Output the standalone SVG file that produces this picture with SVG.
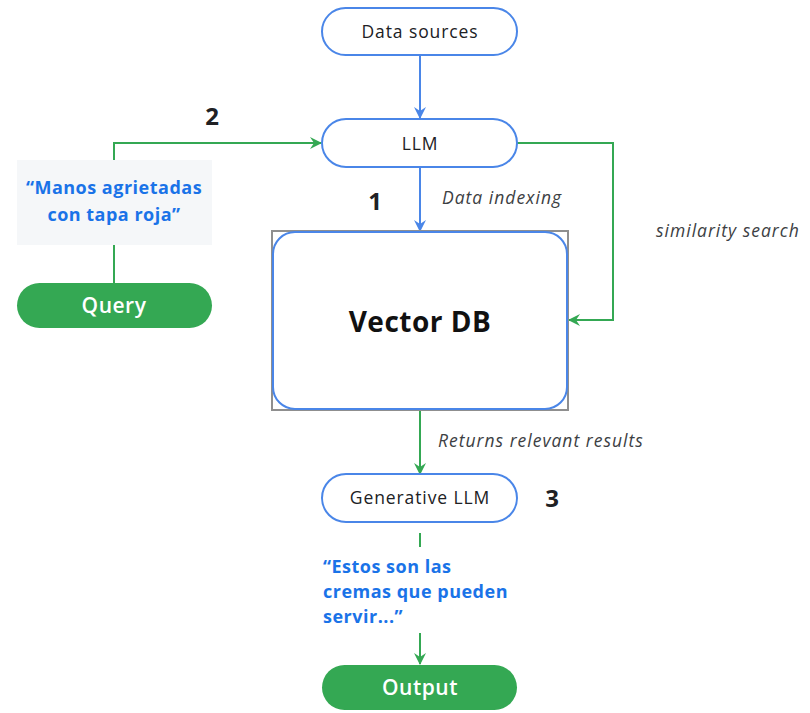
<svg xmlns="http://www.w3.org/2000/svg" width="810" height="713" viewBox="0 0 810 713">
  <defs>
    <style>
      .pill { fill: #ffffff; stroke: #4a86e8; stroke-width: 2; }
      .pill-green { fill: #34a853; stroke: none; }
      .lbl { font-family: "Open Sans", "Liberation Sans", sans-serif; font-size: 17.5px; letter-spacing: 0.9px; fill: #202124; text-anchor: middle; }
      .lbl-white { font-family: "Open Sans", "Liberation Sans", sans-serif; font-size: 21px; font-weight: 600; letter-spacing: 0.5px; fill: #ffffff; text-anchor: middle; }
      .step { font-family: "Open Sans", "Liberation Sans", sans-serif; font-size: 24px; font-weight: 700; fill: #202124; text-anchor: middle; }
      .note { font-family: "Open Sans", "Liberation Sans", sans-serif; font-size: 17.5px; font-style: italic; letter-spacing: 1px; fill: #3c4043; }
      .quote { font-family: "Open Sans", "Liberation Sans", sans-serif; font-size: 18px; font-weight: 700; letter-spacing: 0.5px; fill: #1a73e8; }
      .blue-line { fill: none; stroke: #4a86e8; stroke-width: 2; }
      .green-line { fill: none; stroke: #34a853; stroke-width: 2; }
    </style>
    <marker id="arrow-blue" viewBox="0 0 12 12" refX="11" refY="6" markerWidth="12" markerHeight="12" markerUnits="userSpaceOnUse" orient="auto">
      <path d="M0,0 L12,6 L0,12 L4,6 Z" fill="#4a86e8"/>
    </marker>
    <marker id="arrow-green" viewBox="0 0 12 12" refX="11" refY="6" markerWidth="12" markerHeight="12" markerUnits="userSpaceOnUse" orient="auto">
      <path d="M0,0 L12,6 L0,12 L4,6 Z" fill="#34a853"/>
    </marker>
  </defs>

  <rect width="810" height="713" fill="#ffffff"/>

  <!-- connectors -->
  <g id="connectors">
    <path class="blue-line" d="M420,55 V118" marker-end="url(#arrow-blue)"/>
    <path class="blue-line" d="M420,167 V231" marker-end="url(#arrow-blue)"/>
    <path class="green-line" d="M114,160 V143 H321" marker-end="url(#arrow-green)"/>
    <path class="green-line" d="M114,245 V283"/>
    <path class="green-line" d="M517,143 H613 V320 H569" marker-end="url(#arrow-green)"/>
    <path class="green-line" d="M420,410 V474" marker-end="url(#arrow-green)"/>
    <path class="green-line" d="M420,533 V547"/>
    <path class="green-line" d="M420,633 V664" marker-end="url(#arrow-green)"/>
  </g>

  <!-- connector notes -->
  <text class="note" x="442" y="204">Data indexing</text>
  <text class="note" x="656" y="237">similarity search</text>
  <text class="note" x="438" y="447">Returns relevant results</text>

  <!-- step numbers -->
  <text class="step" x="212" y="125">2</text>
  <text class="step" x="375" y="210">1</text>
  <text class="step" x="552" y="507">3</text>

  <g id="data-sources">
    <rect class="pill" x="322" y="8" width="195" height="47" rx="23.5"/>
    <text class="lbl" x="420" y="38">Data sources</text>
  </g>

  <g id="llm">
    <rect class="pill" x="322" y="119" width="195" height="48" rx="24"/>
    <text class="lbl" x="420" y="150">LLM</text>
  </g>

  <g id="vector-db">
    <rect x="272" y="231" width="296" height="179" fill="#ffffff" stroke="#8f8f8f" stroke-width="2"/>
    <rect x="273" y="232" width="294" height="177" rx="22" fill="#ffffff" stroke="#4a86e8" stroke-width="2"/>
    <text x="420" y="332" font-family="'Open Sans', 'Liberation Sans', sans-serif" font-size="28" font-weight="700" letter-spacing="0.5" fill="#111111" text-anchor="middle">Vector DB</text>
  </g>

  <g id="query-text">
    <rect x="17" y="160" width="195" height="85" fill="#f5f7f9"/>
    <text class="quote" x="114" y="194" text-anchor="middle">“Manos agrietadas</text>
    <text class="quote" x="114" y="221" text-anchor="middle">con tapa roja”</text>
  </g>

  <g id="query">
    <rect class="pill-green" x="17" y="283" width="195" height="45" rx="22.5"/>
    <text class="lbl-white" x="114" y="313">Query</text>
  </g>

  <g id="generative-llm">
    <rect class="pill" x="322" y="474" width="195" height="48" rx="24"/>
    <text class="lbl" x="420" y="504">Generative LLM</text>
  </g>

  <g id="answer-text">
    <text class="quote" x="323" y="573">“Estos son las</text>
    <text class="quote" x="323" y="598">cremas que pueden</text>
    <text class="quote" x="323" y="623">servir...”</text>
  </g>

  <g id="output">
    <rect class="pill-green" x="322" y="665" width="195" height="45" rx="22.5"/>
    <text class="lbl-white" x="420" y="695">Output</text>
  </g>
</svg>
